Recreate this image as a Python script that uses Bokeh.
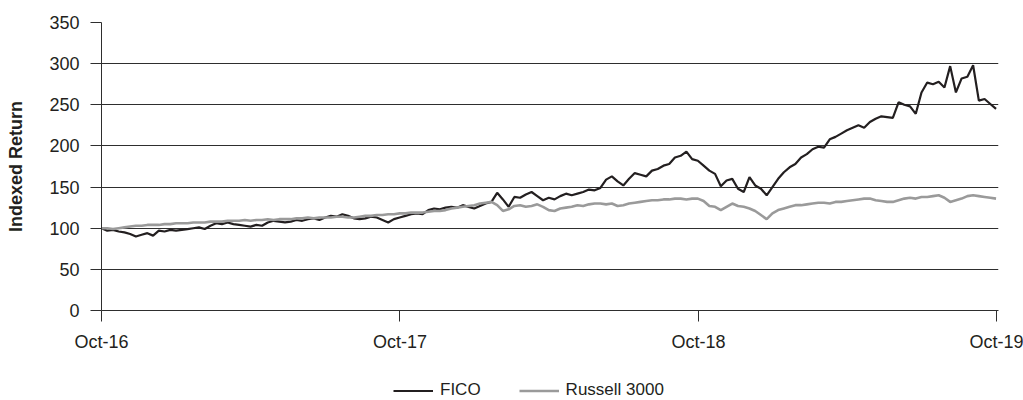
import pandas as pd
from bokeh.plotting import figure
from bokeh.layouts import column
from bokeh.models import (Range1d, FixedTicker, DatetimeTickFormatter, Legend,
                          LegendItem, ColumnDataSource)
from bokeh.embed import file_html
from bokeh.resources import INLINE

# ---- data (weekly readings, indexed to 100 at Oct-16) ----
start_date = "2016-10-01"
end_date = "2019-09-30"

fico = [100, 97, 98, 96, 95, 93, 90, 92, 94, 91,
        97, 96, 98, 97, 98, 99, 100, 101, 99, 103,
        106, 105, 107, 105, 104, 103, 102, 104, 103, 107,
        109, 108, 107, 108, 110, 109, 111, 112, 110, 113,
        115, 114, 117, 115, 112, 111, 112, 114, 113, 110,
        107, 111, 113, 115, 117, 118, 117, 122, 124, 123,
        125, 126, 125, 128, 126, 124, 127, 130, 132, 143,
        135, 126, 138, 137, 141, 144, 139, 134, 137, 135,
        139, 142, 140, 142, 144, 147, 146, 149, 159, 163,
        157, 152, 160, 167, 165, 163, 170, 172, 176, 178,
        186, 188, 193, 184, 182, 176, 170, 166, 151, 158,
        160, 148, 144, 162, 152, 148, 140, 150, 160, 168,
        174, 178, 186, 190, 196, 199, 198, 208, 211, 215,
        219, 222, 225, 222, 229, 233, 236, 235, 234, 253,
        250, 248, 239, 265, 277, 275, 278, 271, 297, 265,
        282, 284, 298, 255, 257, 251, 245]

russell = [100, 100, 99, 100, 101, 102, 103, 103, 104, 104,
           104, 105, 105, 106, 106, 106, 107, 107, 107, 108,
           108, 108, 109, 109, 109, 110, 109, 110, 110, 111,
           110, 111, 111, 111, 112, 112, 113, 112, 113, 113,
           113, 114, 114, 113, 113, 114, 115, 115, 116, 116,
           117, 117, 118, 118, 119, 119, 119, 120, 121, 121,
           122, 124, 125, 126, 127, 128, 130, 131, 132, 128,
           121, 123, 127, 128, 126, 127, 129, 126, 122, 121,
           124, 125, 126, 128, 127, 129, 130, 130, 129, 130,
           127, 128, 130, 131, 132, 133, 134, 134, 135, 135,
           136, 136, 135, 136, 136, 133, 127, 126, 122, 126,
           130, 127, 126, 124, 121, 116, 111, 118, 122, 124,
           126, 128, 128, 129, 130, 131, 131, 130, 132, 132,
           133, 134, 135, 136, 136, 134, 133, 132, 132, 134,
           136, 137, 136, 138, 138, 139, 140, 137, 132, 134,
           136, 139, 140, 139, 138, 137, 136]

tick_dates = ["2016-10-01", "2017-10-01", "2018-10-01", "2019-10-01"]
y_ticks = [0, 50, 100, 150, 200, 250, 300, 350]
series_names = ["FICO", "Russell 3000"]

# ---- build ----
dates = pd.date_range(start_date, end_date, periods=len(fico))
src = ColumnDataSource(dict(date=dates, fico=fico, russell=russell))

FONT = "Liberation Sans"
DARK = "#231f20"
GREY = "#9a9a9a"
GRID = "#2e2e2e"

p = figure(width=1023, height=372, x_axis_type="datetime",
           output_backend="svg", toolbar_location=None,
           x_range=Range1d(pd.Timestamp("2016-10-01"), pd.Timestamp("2019-10-03")),
           y_range=Range1d(0, 350),
           min_border_left=101, min_border_right=25,
           min_border_top=22, min_border_bottom=62)
p.outline_line_color = None

tick_ms = [pd.Timestamp(d).value / 1e6 for d in tick_dates]
p.xaxis.ticker = FixedTicker(ticks=tick_ms)
fmt = "%b-%y"
p.xaxis.formatter = DatetimeTickFormatter(
    milliseconds=fmt, seconds=fmt, minsec=fmt, minutes=fmt, hourmin=fmt,
    hours=fmt, days=fmt, months=fmt, years=fmt)
p.yaxis.ticker = FixedTicker(ticks=y_ticks)

for ax in (p.xaxis[0], p.yaxis[0]):
    ax.major_tick_out = 11
    ax.major_tick_in = 0
    ax.minor_tick_line_color = None
    ax.axis_line_color = GRID
    ax.major_tick_line_color = GRID
    ax.major_label_text_font = FONT
    ax.major_label_text_font_size = "18px"
    ax.major_label_text_color = DARK
p.xaxis.major_label_standoff = 10
p.yaxis.major_label_standoff = 11

p.yaxis.axis_label = "Indexed Return"
p.yaxis.axis_label_text_font = FONT
p.yaxis.axis_label_text_font_size = "18px"
p.yaxis.axis_label_text_font_style = "bold"
p.yaxis.axis_label_text_color = DARK
p.yaxis.axis_label_standoff = 20

p.xgrid.grid_line_color = None
p.ygrid.grid_line_color = GRID
p.ygrid.grid_line_width = 1

p.line("date", "fico", source=src, line_color=DARK, line_width=2.2)
p.line("date", "russell", source=src, line_color=GREY, line_width=2.6)

# ---- legend strip underneath ----
q = figure(width=1023, height=28, output_backend="svg", toolbar_location=None,
           x_axis_location=None, y_axis_location=None,
           x_range=Range1d(0, 1), y_range=Range1d(0, 1), min_border=0)
q.outline_line_color = None
q.grid.visible = False
k1 = q.line("date", "fico", source=src, line_color=DARK, line_width=2.2, visible=False)
k2 = q.line("date", "russell", source=src, line_color=GREY, line_width=2.6, visible=False)

legend = Legend(items=[LegendItem(label=series_names[0], renderers=[k1]),
                       LegendItem(label=series_names[1], renderers=[k2])],
                location=(292, 0), orientation="horizontal",
                glyph_width=40, glyph_height=15, label_standoff=7, spacing=38,
                padding=0, margin=0, border_line_color=None,
                background_fill_alpha=0, click_policy="none",
                label_text_font=FONT, label_text_font_size="17px",
                label_text_color=DARK)
q.add_layout(legend)

open("out.html", "w").write(file_html(column(p, q, spacing=0), INLINE))
